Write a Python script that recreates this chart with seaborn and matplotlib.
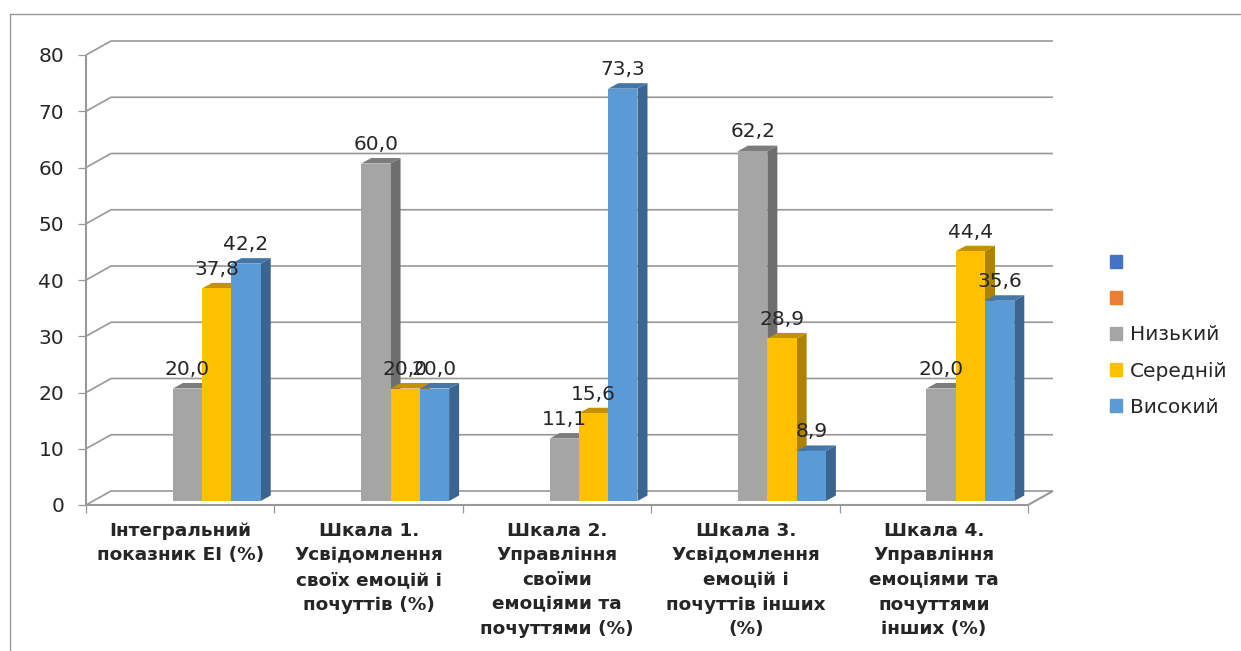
import pandas as pd
import numpy as np
import matplotlib
matplotlib.use("Agg")
import matplotlib.pyplot as plt
import seaborn as sns
from matplotlib.lines import Line2D
from matplotlib.patches import Polygon, Patch
from matplotlib.transforms import Affine2D, IdentityTransform

# =========================
# DATA
# =========================
categories = [
    "Інтегральний\nпоказник ЕІ (%)",
    "Шкала 1.\nУсвідомлення\nсвоїх емоцій і\nпочуттів (%)",
    "Шкала 2.\nУправління\nсвоїми\nемоціями та\nпочуттями (%)",
    "Шкала 3.\nУсвідомлення\nемоцій і\nпочуттів інших\n(%)",
    "Шкала 4.\nУправління\nемоціями та\nпочуттями\nінших (%)",
]
low = [20.0, 60.0, 11.1, 62.2, 20.0]
mid = [37.8, 20.0, 15.6, 28.9, 44.4]
high = [42.2, 20.0, 73.3, 8.9, 35.6]
series_names = [" ", "  ", "Низький", "Середній", "Високий"]
series_colors = ["#4472C4", "#ED7D31", "#A5A5A5", "#FFC000", "#5B9BD5"]
side_colors = {"Низький": "#6E6E6E", "Середній": "#AD8200", "Високий": "#3A6590"}
top_colors = {"Низький": "#7C7C7C", "Середній": "#C29200", "Високий": "#4477A8"}
y_ticks = [0, 10, 20, 30, 40, 50, 60, 70, 80]

df = pd.DataFrame({
    "category": categories * 3,
    "series": ["Низький"] * 5 + ["Середній"] * 5 + ["Високий"] * 5,
    "value": low + mid + high,
})

# =========================
# FIGURE
# =========================
W, H = 1241, 651
sns.set_theme(style="white")
plt.rcParams["font.family"] = ["DejaVu Sans"]
text_color = "#262626"
line_color = "#989898"

fig = plt.figure(figsize=(W / 100, H / 100), dpi=100)
ax = fig.add_axes([93.3 / W, (H - 501) / H, 942 / W, 450 / H])
ax.patch.set_visible(False)

sns.barplot(
    data=df, x="category", y="value", hue="series",
    hue_order=series_names, palette=series_colors,
    order=categories, width=0.777, gap=0, saturation=1,
    errorbar=None, legend=False, linewidth=0, ax=ax,
)
ax.set_xlim(-0.5, 4.5)
ax.set_ylim(0, 80)
ax.set_xlabel("")
ax.set_ylabel("")
sns.despine(ax=ax, left=True, bottom=True)

ax.set_yticks(y_ticks)
ax.set_xticks(range(len(categories)))
ax.set_xticklabels(categories, fontsize=13.3, fontweight="bold", color=text_color, linespacing=1.47)
ax.tick_params(axis="y", length=0, pad=21, labelsize=14.5, labelcolor=text_color)
ax.tick_params(axis="x", length=0, pad=15)

# front plane of the fake 3D box sits a bit left/below the bars
for lab in ax.get_yticklabels():
    lab.set_transform(lab.get_transform() + Affine2D().translate(0, -4))
for lab in ax.get_xticklabels():
    lab.set_transform(lab.get_transform() + Affine2D().translate(-7, 0))

fig.canvas.draw()


def line(xs, ys, lw=1.2):
    fig.add_artist(Line2D(xs, ys, color=line_color, lw=lw, transform=IdentityTransform(),
                          zorder=-1, solid_capstyle="butt"))


FRONT = (-7.3, -4)
BACK = (17.7, 10)
x_left = ax.transData.transform((-0.5, 0))[0]
x_right = ax.transData.transform((4.5, 0))[0]

# gridlines, walls and ticks
for v in y_ticks:
    y = ax.transData.transform((0, v))[1]
    line([x_left + FRONT[0], x_left + BACK[0], x_right + BACK[0]], [y + FRONT[1], y + BACK[1], y + BACK[1]])
    line([x_left + FRONT[0] - 8, x_left + FRONT[0]], [y + FRONT[1]] * 2, lw=0.9)

y0 = ax.transData.transform((0, 0))[1]
y80 = ax.transData.transform((0, 80))[1]
line([x_left + FRONT[0]] * 2, [y0 + FRONT[1], y80 + FRONT[1]], lw=1.5)
line([x_left + FRONT[0], x_right + FRONT[0], x_right + BACK[0]], [y0 + FRONT[1], y0 + FRONT[1], y0 + BACK[1]], lw=1.5)
for i in range(len(categories) + 1):
    x = ax.transData.transform((i - 0.5, 0))[0] + FRONT[0]
    line([x, x], [y0 + FRONT[1], y0 + FRONT[1] - 8], lw=0.9)

# outer frame of the pasted chart, only top and left show
line([9.5, 9.5, W], [0, H - 13.5, H - 13.5], lw=1.0)

# bar sides and tops
DX, DY = 10, 5.5
shown = [n for n in series_names if n.strip()]
for i, (name, container) in enumerate(zip(shown, ax.containers[-3:])):
    for bar in container:
        (x0, yb), (x1, yt) = ax.transData.transform(bar.get_bbox().get_points())
        bar.set_zorder(3 + 2 * i)
        side = [(x1, yb), (x1 + DX, yb + DY), (x1 + DX, yt + DY), (x1, yt)]
        top = [(x0, yt), (x0 + DX, yt + DY), (x1 + DX, yt + DY), (x1, yt)]
        ax.add_patch(Polygon(side, color=side_colors[name], transform=IdentityTransform(),
                             clip_on=False, zorder=2 + 2 * i, lw=0))
        ax.add_patch(Polygon(top, color=top_colors[name], transform=IdentityTransform(),
                             clip_on=False, zorder=2 + 2 * i, lw=0))
    labels = ax.bar_label(container, fmt=lambda v: f"{v:.1f}".replace(".", ","), padding=7,
                          fontsize=14.5, color=text_color, zorder=20)
    for t in labels:
        t.set_clip_on(False)

# legend
handles = [Patch(color=c) for c in series_colors]
fig.legend(handles, series_names, loc="center left", bbox_to_anchor=(1092 / W, (H - 335) / H),
           frameon=False, fontsize=14.5, labelcolor=text_color, handlelength=0.6, handleheight=0.6,
           handletextpad=0.4, labelspacing=0.85, borderpad=0.4)

fig.savefig("out.png", dpi=100)
